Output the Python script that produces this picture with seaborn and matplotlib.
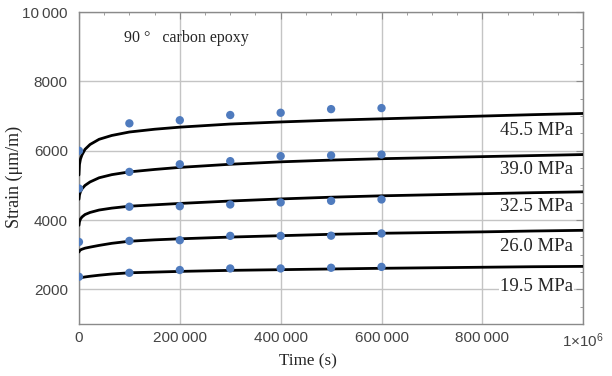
import numpy as np
import pandas as pd
import matplotlib
matplotlib.use("Agg")
import matplotlib.pyplot as plt
import matplotlib.ticker as mticker
import seaborn as sns

# measured creep strain (points)
t_pts = [0, 100000, 200000, 300000, 400000, 500000, 600000]
pts_455 = [6000, 6790, 6880, 7030, 7095, 7200, 7230]
pts_390 = [4910, 5390, 5610, 5700, 5845, 5865, 5890]
pts_325 = [np.nan, 4385, 4400, 4450, 4510, 4555, 4595]
pts_260 = [3370, 3400, 3420, 3545, 3545, 3550, 3615]
pts_195 = [2365, 2480, 2560, 2605, 2605, 2625, 2650]

# model curves
t_fit = [0, 1000, 3000, 6000, 12000, 22000, 40000, 65000, 100000, 150000,
         200000, 300000, 400000, 500000, 600000, 700000, 800000, 900000, 1000000]
fit_455 = [5300, 5600, 5760, 5880, 6040, 6180, 6330, 6440, 6540, 6620,
           6680, 6770, 6830, 6880, 6920, 6960, 7000, 7040, 7075]
fit_390 = [4600, 4720, 4820, 4900, 5000, 5100, 5220, 5310, 5390, 5460,
           5520, 5610, 5680, 5730, 5770, 5800, 5830, 5860, 5890]
fit_325 = [3850, 3950, 4030, 4090, 4160, 4220, 4290, 4345, 4400, 4440,
           4480, 4550, 4610, 4660, 4700, 4730, 4760, 4790, 4815]
fit_260 = [3080, 3110, 3140, 3160, 3190, 3220, 3270, 3330, 3390, 3430,
           3460, 3510, 3550, 3590, 3620, 3640, 3660, 3685, 3705]
fit_195 = [2310, 2320, 2335, 2345, 2360, 2380, 2410, 2445, 2480, 2500,
           2520, 2550, 2570, 2590, 2610, 2625, 2640, 2655, 2665]

stress_labels = ["45.5 MPa", "39.0 MPa", "32.5 MPa", "26.0 MPa", "19.5 MPa"]
label_y = [6570, 5450, 4400, 3240, 2090]

pts = [pts_455, pts_390, pts_325, pts_260, pts_195]
fits = [fit_455, fit_390, fit_325, fit_260, fit_195]

df_pts = pd.concat([pd.DataFrame({"t": t_pts, "strain": p, "s": lab})
                    for p, lab in zip(pts, stress_labels)]).dropna()
df_fit = pd.concat([pd.DataFrame({"t": t_fit, "strain": f, "s": lab})
                    for f, lab in zip(fits, stress_labels)])

sns.set_style("white")
plt.rcParams["font.family"] = ["Liberation Sans", "DejaVu Sans"]
plt.rcParams["mathtext.fontset"] = "custom"
plt.rcParams["mathtext.rm"] = "Liberation Sans"
plt.rcParams["mathtext.it"] = "Liberation Sans"

fig = plt.figure(figsize=(6.12, 3.76), dpi=100)
ax = fig.add_axes([0.129, 0.138, 0.824, 0.830])

sns.lineplot(data=df_fit, x="t", y="strain", units="s", estimator=None,
             color="black", lw=2.0, ax=ax, legend=False, zorder=3)
sns.scatterplot(data=df_pts, x="t", y="strain", color="#4f7bbe", s=36,
                edgecolor="none", ax=ax, legend=False, zorder=4)

ax.set_xlim(0, 1000000)
ax.set_ylim(1000, 10000)
ax.xaxis.set_major_locator(mticker.MultipleLocator(200000))
ax.xaxis.set_minor_locator(mticker.MultipleLocator(50000))
ax.yaxis.set_major_locator(mticker.MultipleLocator(2000))
ax.yaxis.set_minor_locator(mticker.MultipleLocator(500))


def fmt_num(v, pos):
    v = int(round(v))
    if v == 1000000:
        return r"1$\times$10$^{6}$"
    s = str(v)
    if len(s) > 4:
        s = s[:-3] + "\u2009" + s[-3:]
    return s


ax.xaxis.set_major_formatter(mticker.FuncFormatter(fmt_num))
ax.yaxis.set_major_formatter(mticker.FuncFormatter(fmt_num))

ax.grid(True, which="major", color="#c4c4c4", lw=1.0, zorder=0)
ax.set_axisbelow(True)
for sp in ax.spines.values():
    sp.set_color("#8a8a8a")
    sp.set_linewidth(1.0)
ax.tick_params(which="both", direction="in", top=True, right=True,
               color="#8a8a8a", labelsize=11, labelcolor="#444444")
ax.tick_params(axis="x", pad=5)
ax.tick_params(axis="y", pad=8)
ax.tick_params(which="major", length=5)
ax.tick_params(which="minor", length=2.5)

ax.set_xlabel("Time (s)", family="Liberation Serif", fontsize=12.3)
ax.set_ylabel("Strain (μm/m)", family="Liberation Serif", fontsize=13)
ax.xaxis.set_label_coords(0.455, -0.093)
ax.yaxis.set_label_coords(-0.111, 0.47)

fig.text(124 / 612, 1 - 38 / 376, "90 °   carbon epoxy", fontsize=11.5,
         family="Liberation Serif", va="center", ha="left")
for lab, y in zip(stress_labels, label_y):
    ax.text(980000, y, lab, ha="right", va="center", fontsize=13.5,
            family="Liberation Serif", zorder=5,
            bbox=dict(facecolor="white", edgecolor="none", pad=1.0))

fig.savefig("out.png", dpi=100)
